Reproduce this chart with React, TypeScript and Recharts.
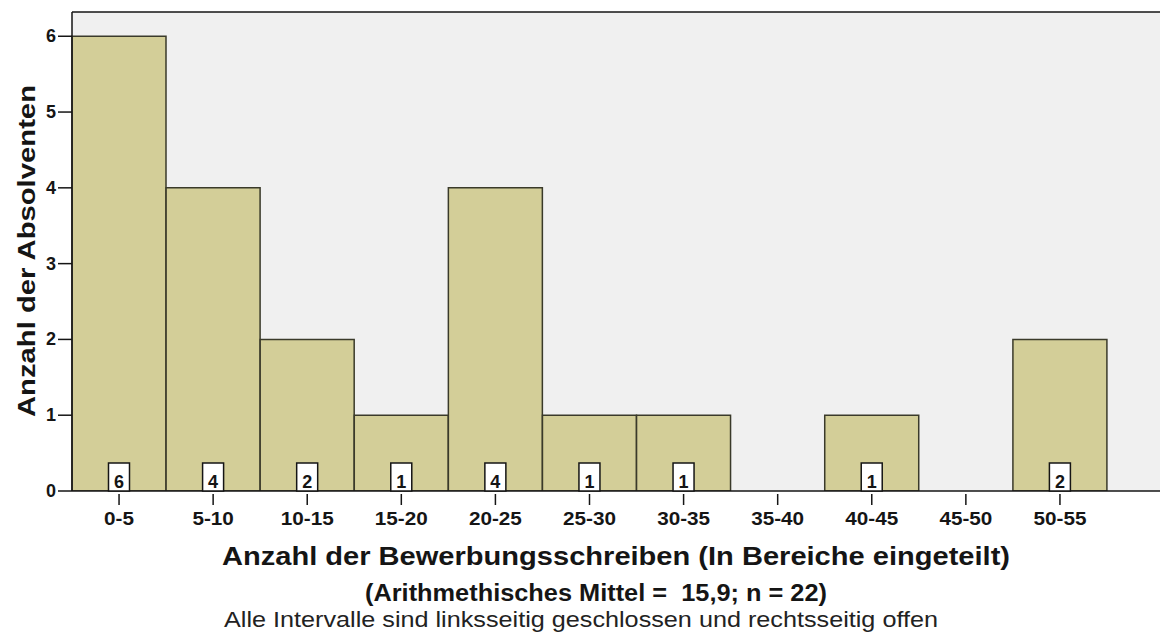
import { Bar, BarChart, CartesianGrid, LabelList, ReferenceLine, XAxis, YAxis } from "recharts";

const bins = ["0-5", "5-10", "10-15", "15-20", "20-25", "25-30", "30-35", "35-40", "40-45", "45-50", "50-55"];
const counts = [6, 4, 2, 1, 4, 1, 1, 0, 1, 0, 2];
const yTicks = [0, 1, 2, 3, 4, 5, 6];

const yTitle = "Anzahl der Absolventen";
const xTitle = "Anzahl der Bewerbungsschreiben (In Bereiche eingeteilt)";
const xSubtitle = "(Arithmethisches Mittel =  15,9; n = 22)";
const xNote = "Alle Intervalle sind linksseitig geschlossen und rechtsseitig offen";

const data = bins.map((bin, i) => ({ bin, count: counts[i] }));

const SANS = "'Liberation Sans', Arial, sans-serif";
const INK = "#151515";

// bold label with a horizontal stretch, like the original (slightly widened) export
function WideText({ x, y, size, sx, anchor = "middle", children }: any) {
  return (
    <text
      transform={`translate(${x},${y}) scale(${sx},1)`}
      x={0}
      y={0}
      textAnchor={anchor}
      fontFamily={SANS}
      fontWeight="bold"
      fontSize={size}
      fill={INK}
    >
      {children}
    </text>
  );
}

function XTick({ x, y, payload }: any) {
  return (
    <g>
      <line x1={x} x2={x} y1={y + 3} y2={y + 14} stroke={INK} strokeWidth={1.5} />
      <WideText x={x} y={y + 34} size={18} sx={1.15}>
        {payload.value}
      </WideText>
    </g>
  );
}

function YTick({ x, y, payload }: any) {
  return (
    <WideText x={x} y={y + 6} size={18} sx={1} anchor="end">
      {payload.value}
    </WideText>
  );
}

function CountBox({ x, y, width, height, value }: any) {
  if (!value) return null;
  const cx = x + width / 2;
  const bottom = y + height;
  return (
    <g>
      <rect x={cx - 10.5} y={bottom - 28} width={21} height={28} fill="#ffffff" stroke={INK} strokeWidth={1.5} />
      <WideText x={cx} y={bottom - 3} size={18} sx={1}>
        {value}
      </WideText>
    </g>
  );
}

export default function App() {
  return (
    <div style={{ position: "absolute", left: 0, top: 0, width: 1160, height: 639, background: "#fff" }}>
      <BarChart
        width={1160}
        height={639}
        data={data}
        margin={{ top: 12, right: 0, bottom: 108, left: 0 }}
        barCategoryGap={0}
      >
        <CartesianGrid fill="#f0f0f0" horizontal={false} vertical={false} />
        <XAxis
          dataKey="bin"
          height={40}
          padding={{ left: 0, right: 53 }}
          axisLine={{ stroke: INK, strokeWidth: 1.5 }}
          tickLine={false}
          tickSize={0}
          tickMargin={0}
          tick={<XTick />}
          interval={0}
        />
        <YAxis
          width={72}
          domain={[0, 6.32]}
          ticks={yTicks}
          allowDataOverflow
          axisLine={{ stroke: INK, strokeWidth: 1.5 }}
          tickLine={{ stroke: INK, strokeWidth: 1.5 }}
          tickSize={14}
          tickMargin={2}
          tick={<YTick />}
        />
        <ReferenceLine y={6.32} stroke={INK} strokeWidth={1.5} ifOverflow="extendDomain" />
        <Bar dataKey="count" fill="#d3ce98" stroke="#3a3a2a" strokeWidth={1.5} isAnimationActive={false}>
          <LabelList dataKey="count" content={<CountBox />} />
        </Bar>
      </BarChart>

      <svg
        width={1160}
        height={639}
        style={{ position: "absolute", left: 0, top: 0, pointerEvents: "none" }}
      >
        <text
          transform="translate(35,417) rotate(-90)"
          fontFamily={SANS}
          fontWeight="bold"
          fontSize={23}
          fill={INK}
          textLength={332}
          lengthAdjust="spacingAndGlyphs"
        >
          {yTitle}
        </text>
        <text
          x={222}
          y={565}
          fontFamily={SANS}
          fontWeight="bold"
          fontSize={25}
          fill={INK}
          textLength={788}
          lengthAdjust="spacingAndGlyphs"
        >
          {xTitle}
        </text>
        <text
          x={365}
          y={601}
          fontFamily={SANS}
          fontWeight="bold"
          fontSize={23}
          fill={INK}
          textLength={462}
          lengthAdjust="spacingAndGlyphs"
          style={{ whiteSpace: "pre" }}
        >
          {xSubtitle}
        </text>
        <text
          x={224}
          y={627}
          fontFamily={SANS}
          fontSize={22}
          fill="#222"
          textLength={714}
          lengthAdjust="spacingAndGlyphs"
        >
          {xNote}
        </text>
      </svg>
    </div>
  );
}
